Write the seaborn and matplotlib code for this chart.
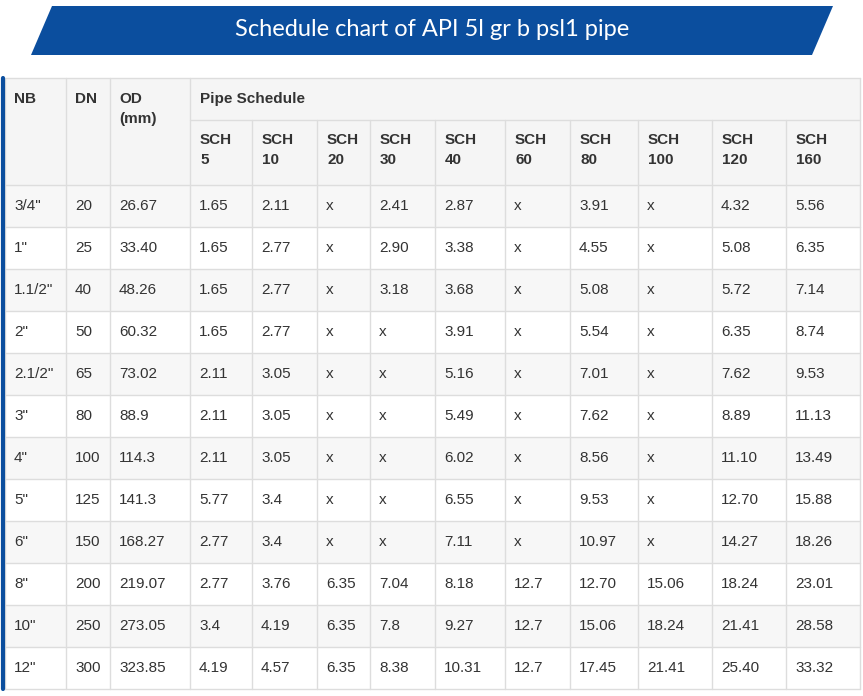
import matplotlib
matplotlib.use("Agg")
import matplotlib.pyplot as plt
from matplotlib.patches import Polygon, Rectangle
import seaborn as sns

sns.set_style("white")

# ── Table data ──────────────────────────────────────────────────────────────
title = "Schedule chart of API 5l gr b psl1 pipe"
nb = ['3/4"', '1"', '1.1/2"', '2"', '2.1/2"', '3"', '4"', '5"', '6"', '8"', '10"', '12"']
dn = ["20", "25", "40", "50", "65", "80", "100", "125", "150", "200", "250", "300"]
od = ["26.67", "33.40", "48.26", "60.32", "73.02", "88.9", "114.3", "141.3",
      "168.27", "219.07", "273.05", "323.85"]
schedules = ["5", "10", "20", "30", "40", "60", "80", "100", "120", "160"]
sch_values = [
    ["1.65", "2.11", "x", "2.41", "2.87", "x", "3.91", "x", "4.32", "5.56"],
    ["1.65", "2.77", "x", "2.90", "3.38", "x", "4.55", "x", "5.08", "6.35"],
    ["1.65", "2.77", "x", "3.18", "3.68", "x", "5.08", "x", "5.72", "7.14"],
    ["1.65", "2.77", "x", "x", "3.91", "x", "5.54", "x", "6.35", "8.74"],
    ["2.11", "3.05", "x", "x", "5.16", "x", "7.01", "x", "7.62", "9.53"],
    ["2.11", "3.05", "x", "x", "5.49", "x", "7.62", "x", "8.89", "11.13"],
    ["2.11", "3.05", "x", "x", "6.02", "x", "8.56", "x", "11.10", "13.49"],
    ["5.77", "3.4", "x", "x", "6.55", "x", "9.53", "x", "12.70", "15.88"],
    ["2.77", "3.4", "x", "x", "7.11", "x", "10.97", "x", "14.27", "18.26"],
    ["2.77", "3.76", "6.35", "7.04", "8.18", "12.7", "12.70", "15.06", "18.24", "23.01"],
    ["3.4", "4.19", "6.35", "7.8", "9.27", "12.7", "15.06", "18.24", "21.41", "28.58"],
    ["4.19", "4.57", "6.35", "8.38", "10.31", "12.7", "17.45", "21.41", "25.40", "33.32"],
]

# ── Layout (pixels) ─────────────────────────────────────────────────────────
W, H = 863, 696
col_x = [5, 66, 110, 190, 252, 317, 370, 435, 505, 570, 638, 712, 786, 860]
top, head_mid, head_bot = 78, 120, 185
row_h = 42
grid = "#dddddd"
txt = "#333333"
font = "Liberation Sans"

fig = plt.figure(figsize=(W / 100, H / 100), dpi=100)
ax = fig.add_axes([0, 0, 1, 1])
ax.set_xlim(0, W)
ax.set_ylim(H, 0)
ax.axis("off")

# banner
ax.add_patch(Polygon([[52, 6], [833, 6], [812, 55], [31, 55]], closed=True,
                     facecolor="#0b4e9e", edgecolor="none"))
ax.text(432, 30, title, ha="center", va="center", color="white",
        fontsize=17, family="Lato")

# header background
ax.add_patch(Rectangle((col_x[0], top), col_x[-1] - col_x[0], head_bot - top,
                       facecolor="#f5f5f5", edgecolor="none"))
# striped rows
for i in range(len(nb)):
    y0 = head_bot + i * row_h
    fc = "#f7f7f7" if i % 2 == 0 else "white"
    ax.add_patch(Rectangle((col_x[0], y0), col_x[-1] - col_x[0], row_h,
                           facecolor=fc, edgecolor="none"))

bottom = head_bot + len(nb) * row_h
# horizontal lines
for y in [top, head_bot] + [head_bot + i * row_h for i in range(1, len(nb) + 1)]:
    ax.plot([col_x[0], col_x[-1]], [y, y], color=grid, lw=1)
ax.plot([col_x[3], col_x[-1]], [head_mid, head_mid], color=grid, lw=1)
# vertical lines
for j, x in enumerate(col_x):
    y_start = head_mid if 3 < j < len(col_x) - 1 else top
    ax.plot([x, x], [y_start, bottom], color=grid, lw=1)
# left accent bar
ax.plot([3, 3], [top, bottom], color="#0b4e9e", lw=3)

# header text
for j, lab in enumerate(["NB", "DN", "OD\n(mm)"]):
    ax.text(col_x[j] + 9, top + 14, lab, ha="left", va="top", fontsize=11,
            fontweight="bold", color=txt, family=font, linespacing=1.5)
ax.text(col_x[3] + 10, top + 14, "Pipe Schedule", ha="left", va="top",
        fontsize=11, fontweight="bold", color=txt, family=font)
for k, s in enumerate(schedules):
    ax.text(col_x[3 + k] + 10, head_mid + 13, f"SCH\n{s}", ha="left", va="top",
            fontsize=11, fontweight="bold", color=txt, family=font, linespacing=1.5)

# body text
for i in range(len(nb)):
    yc = head_bot + i * row_h + row_h / 2
    row = [nb[i], dn[i], od[i]] + sch_values[i]
    for j, val in enumerate(row):
        ax.text(col_x[j] + 9, yc, val, ha="left", va="center", fontsize=11,
                color=txt, family=font)

fig.savefig("out.png", dpi=100)
